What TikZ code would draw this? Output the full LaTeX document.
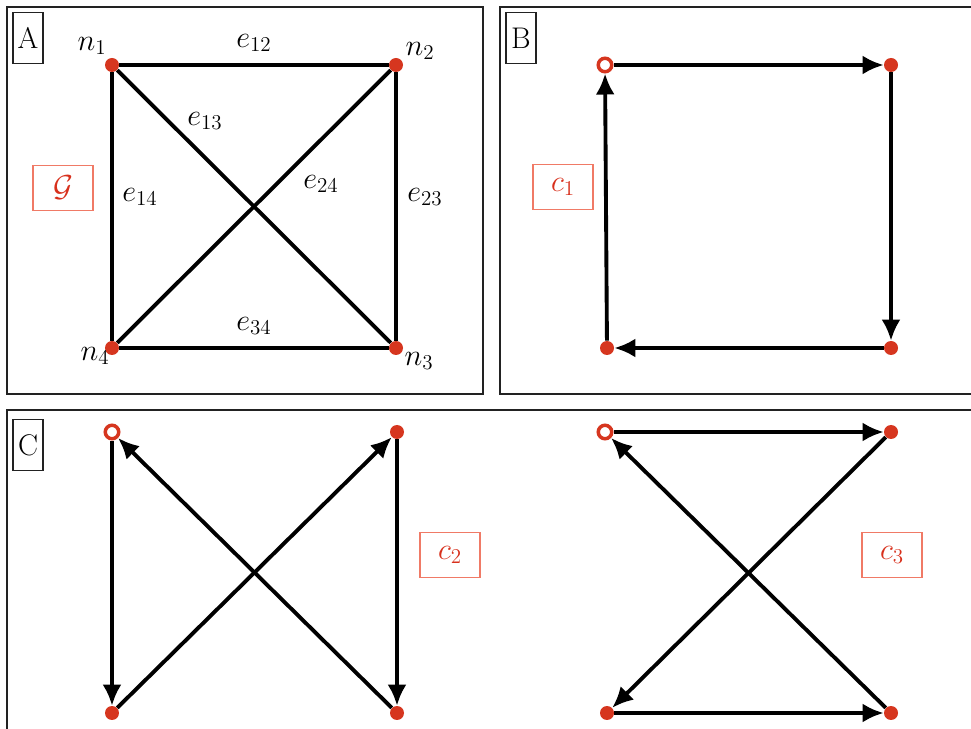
\documentclass[tikz,border=0pt]{standalone}
\usepackage{tikz}
\usetikzlibrary{arrows.meta}
\definecolor{dot}{HTML}{D6361F}
\definecolor{tagline}{HTML}{F07A66}
\definecolor{tagtext}{HTML}{D8301C}
\definecolor{frame}{HTML}{222222}
\tikzset{
  panel/.style  = {draw=frame, line width=1.5pt},
  letter/.style = {draw=frame, line width=1pt, minimum width=6mm, minimum height=10.2mm,
                   inner sep=0pt, font=\fontsize{17}{19}\selectfont},
  vert/.style   = {circle, fill=dot, minimum size=2.8mm, inner sep=0pt},
  first/.style  = {circle, draw=dot, fill=white, line width=2pt, minimum size=2.7mm, inner sep=0pt},
  edge/.style   = {draw=black, line width=2.2pt},
  walk/.style   = {-{Latex[length=4.2mm,width=3.8mm]}, draw=black, line width=2.2pt},
  tag/.style    = {draw=tagline, line width=0.6pt, minimum width=12mm, minimum height=9mm,
                   inner sep=0pt, text=tagtext, font=\fontsize{17}{19}\selectfont},
  lab/.style    = {font=\fontsize{17}{19}\selectfont, inner sep=1pt},
}

\begin{document}
\begin{tikzpicture}[x=0.02cm,y=-0.02cm]
\clip (0,0) rectangle (971,729);
\fill[white] (0,0) rectangle (971,729);

% ------------------------------------------------------------------ panels
\draw[panel] (7,7) rectangle (483,394);
\draw[panel] (500,7) rectangle (990,394);
\draw[panel] (7,410) rectangle (990,745);
\node[letter] (pa) at (28,38)  {A};
\node[letter] (pb) at (521,38) {B};
\node[letter] (pc) at (28,445) {C};

% ------------------------------------------------------------------ A: the graph
\node[vert] (a1) at (112,65)  {};
\node[vert] (a2) at (396,65)  {};
\node[vert] (a3) at (396,348) {};
\node[vert] (a4) at (112,348) {};
\foreach \a/\b in {a1/a2, a1/a3, a1/a4, a2/a3, a2/a4, a3/a4}{\draw[edge] (\a) -- (\b);}

\node[lab] (ln1) at (92,46)   {$n_1$};
\node[lab] (ln2) at (420,51)  {$n_2$};
\node[lab] (ln3) at (419,361) {$n_3$};
\node[lab] (ln4) at (95,356)  {$n_4$};
\node[lab] (le12) at (254,43)  {$e_{12}$};
\node[lab] (le13) at (205,121) {$e_{13}$};
\node[lab] (le14) at (140,197) {$e_{14}$};
\node[lab] (le24) at (321,184) {$e_{24}$};
\node[lab] (le23) at (425,197) {$e_{23}$};
\node[lab] (le34) at (254,326) {$e_{34}$};
\node[tag] (tg) at (63,188) {$\mathcal{G}$};

% ------------------------------------------------------------------ B: cycle c1
\node[first] (b1) at (605,65)  {};
\node[vert]  (b2) at (891,65)  {};
\node[vert]  (b3) at (891,348) {};
\node[vert]  (b4) at (607,348) {};
\foreach \a/\b in {b1/b2, b2/b3, b3/b4, b4/b1}{\draw[walk] (\a) -- (\b);}
\node[tag] (tc1) at (563,187) {$c_1$};

% ------------------------------------------------------------------ C: cycles c2 and c3
\node[first] (c1) at (112,432) {};
\node[vert]  (c2) at (397,432) {};
\node[vert]  (c3) at (397,713) {};
\node[vert]  (c4) at (112,713) {};
\foreach \a/\b in {c1/c4, c4/c2, c2/c3, c3/c1}{\draw[walk] (\a) -- (\b);}
\node[tag] (tc2) at (450,555) {$c_2$};

\node[first] (d1) at (605,432) {};
\node[vert]  (d2) at (891,432) {};
\node[vert]  (d3) at (891,713) {};
\node[vert]  (d4) at (607,713) {};
\foreach \a/\b in {d1/d2, d2/d4, d4/d3, d3/d1}{\draw[walk] (\a) -- (\b);}
\node[tag] (tc3) at (892,555) {$c_3$};

\end{tikzpicture}
\end{document}
